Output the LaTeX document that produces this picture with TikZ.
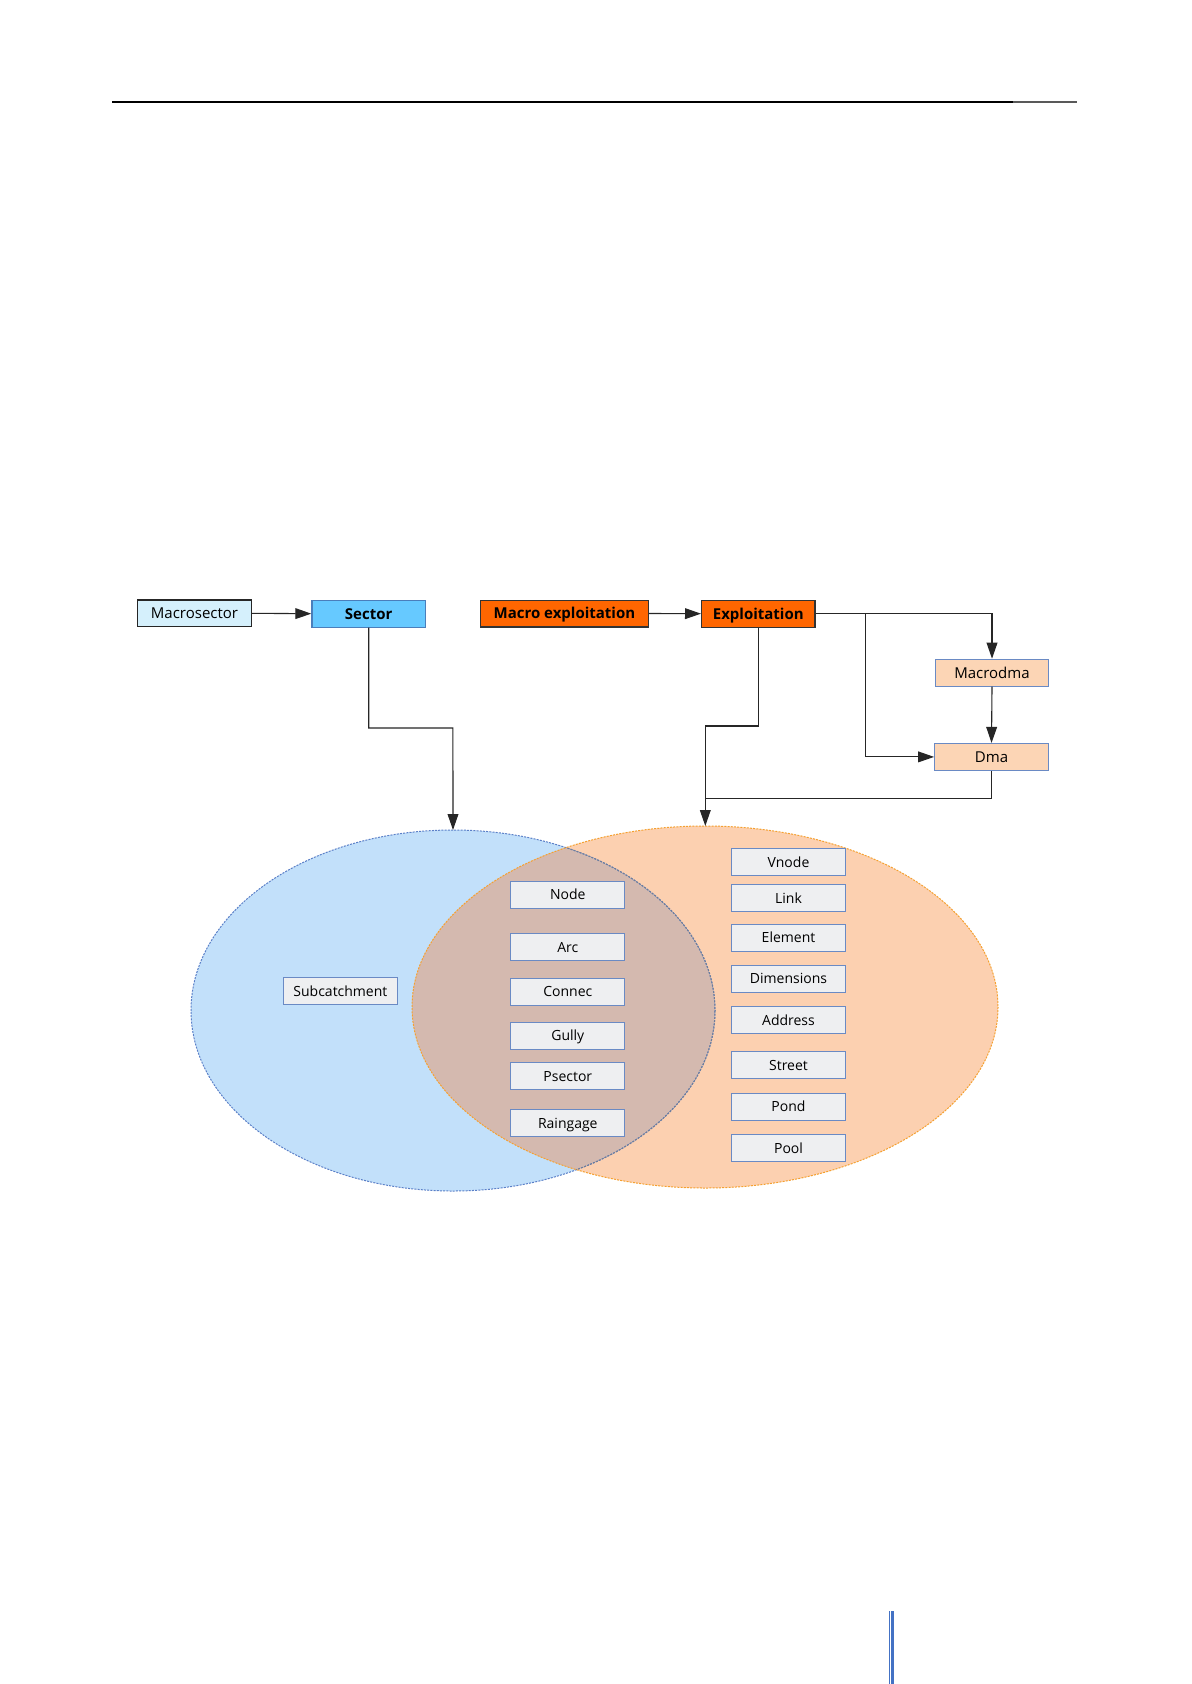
\documentclass[tikz,border=0pt]{standalone}
\usepackage{fontspec}
\setmainfont{Open Sans}
\usetikzlibrary{arrows.meta}
\definecolor{lblue}{HTML}{D5F0FC}
\definecolor{sky}{HTML}{66C9FF}
\definecolor{skyb}{HTML}{4A7EBB}
\definecolor{orng}{HTML}{FF6600}
\definecolor{peach}{HTML}{FCD5B5}
\definecolor{boxb}{HTML}{6A8AC4}
\definecolor{grayfill}{HTML}{EEEFF1}
\definecolor{ellblue}{HTML}{C2E0FA}
\definecolor{ellblueb}{HTML}{5B80C8}
\definecolor{ellor}{HTML}{FCD0B0}
\definecolor{ellorb}{HTML}{F5A030}
\definecolor{inter}{HTML}{D4B9AF}
\definecolor{barblue}{HTML}{4472C4}
\tikzset{
  base/.style={draw, rectangle, inner sep=0pt, minimum height=13.4pt, text height=5.4pt, text depth=0pt, font=\fontsize{7.5}{9}\selectfont, line width=0.6pt},
  topbox/.style={base, fill=lblue, draw=black!85},
  sectorbox/.style={base, fill=sky, draw=skyb, font=\fontsize{7.5}{9}\selectfont\bfseries},
  orbox/.style={base, fill=orng, draw=black!80, font=\fontsize{7.5}{9}\selectfont\bfseries},
  peachbox/.style={base, fill=peach, draw=boxb},
  itembox/.style={base, fill=grayfill, draw=boxb, line width=0.5pt, minimum width=57pt, minimum height=13.5pt, text height=5.1pt, font=\fontsize{7}{9}\selectfont},
  conn/.style={draw=black!85, line width=0.55pt},
  arr/.style={conn, -{Triangle[length=8pt,width=5.4pt]}},
  elldash/.style={dash pattern=on 1pt off 0.6pt, line width=0.5pt}
}
\begin{document}
\begin{tikzpicture}[x=0.5pt,y=-0.5pt]
\useasboundingbox (0,0) rectangle (1191,1684);
\fill[white] (0,0) rectangle (1191,1684);
% header rule
\draw[black, line width=0.9pt] (112,102) -- (1013,102);
\draw[black!65, line width=0.9pt] (1013,102) -- (1077,102);
% bottom bar
\fill[barblue] (888.5,1611) rectangle (889.8,1684);
\fill[barblue] (891,1611) rectangle (893.5,1684);

% ellipses
\def\blueE{(453,1010.5) ellipse [x radius=262, y radius=180.5]}
\def\orE{(705,1007) ellipse [x radius=293, y radius=181]}
\fill[ellblue] \blueE;
\fill[ellor] \orE;
\begin{scope}
  \clip \blueE;
  \fill[inter] \orE;
\end{scope}
\draw[ellblueb, elldash] \blueE;
\begin{scope}
  \clip \orE;
  \draw[black!45!ellblueb!70, elldash] \blueE;
\end{scope}
\draw[ellorb, elldash] \orE;
\coordinate (btop) at (453,830);
\coordinate (otop) at (705.3,826);

% top nodes
\node[topbox, minimum width=57pt] (macrosector) at (194.5,613.3) {Macrosector};
\node[sectorbox, minimum width=56.8pt] (sector) at (368.7,613.7) {Sector};
\node[orbox, minimum width=84.2pt] (macroexp) at (564.4,613.5) {Macro exploitation};
\node[orbox, minimum width=56.7pt] (exploit) at (758.3,613.7) {Exploitation};
\node[peachbox, minimum width=56.7pt] (macrodma) at (992,672.7) {Macrodma};
\node[peachbox, minimum width=56.8pt] (dma) at (991.5,756.9) {Dma};

% connectors
\draw[arr] (macrosector.east) -- (sector.west);
\draw[arr] (sector.south) |- (452.9,728) -- (btop);
\draw[arr] (macroexp.east) -- (exploit.west);
\draw[arr] (exploit.east) -| (macrodma.north);
\coordinate (br) at (865.7,613.3);
\draw[arr] (br) |- (dma.west);
\draw[arr] (macrodma.south) -- (dma.north);
\draw[arr] (exploit.south) |- (705.3,726) -- (otop);
\draw[conn] (dma.south) |- (705.3,798.3);

% items
\node[itembox] (subc) at (340.4,991.3) {Subcatchment};
\node[itembox] (node) at (567.8,894.7) {Node};
\node[itembox] (arc) at (567.8,947) {Arc};
\node[itembox] (connec) at (567.8,991.5) {Connec};
\node[itembox] (gully) at (567.8,1035.8) {Gully};
\node[itembox] (psector) at (567.8,1076) {Psector};
\node[itembox] (raingage) at (567.8,1123) {Raingage};
\node[itembox] (vnode) at (788.5,862.3) {Vnode};
\node[itembox] (link) at (788.5,898.3) {Link};
\node[itembox] (element) at (788.5,937.8) {Element};
\node[itembox] (dims) at (788.5,978.5) {Dimensions};
\node[itembox] (address) at (788.5,1020.2) {Address};
\node[itembox] (street) at (788.5,1065) {Street};
\node[itembox] (pond) at (788.5,1106.5) {Pond};
\node[itembox] (pool) at (788.5,1148) {Pool};
\end{tikzpicture}
\end{document}
